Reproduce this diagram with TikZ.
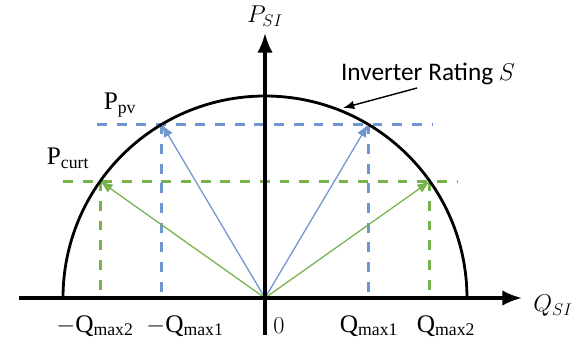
\documentclass[tikz,border=0pt]{standalone}
\usepackage{fontspec}
\setmainfont{Carlito}
\setmathrm{Liberation Serif}
\usepackage{amsmath}
\usetikzlibrary{arrows.meta}
\definecolor{pvblue}{RGB}{112,150,208}
\definecolor{curtgreen}{RGB}{118,178,78}

\begin{document}
\begin{tikzpicture}[>={Latex[length=14pt,width=11pt]},
  axis/.style={line width=2.2pt,->},
  rating/.style={line width=2pt},
  guide/.style={line width=2pt,dash pattern=on 7pt off 7pt},
  vec/.style={line width=0.9pt,-{Latex[length=9pt,width=7pt]}},
  lbl/.style={font=\fontsize{18}{21}\selectfont}]
  \useasboundingbox (-6.625,-1.025) rectangle (7.975,7.45);
  \def\R{5.05}
  \coordinate (O) at (0,0);
  \coordinate (xl) at (-6.15,0);
  \coordinate (xr) at (6.425,0);
  \coordinate (yb) at (0,-0.925);
  \coordinate (yt) at (0,6.625);
  \coordinate (sR) at (\R,0);
  \coordinate (pv1) at (59.3:\R);
  \coordinate (pv2) at (120.7:\R);
  \coordinate (cu1) at (35.3:\R);
  \coordinate (cu2) at (144.7:\R);
  \path (pv1) ++(-6.778,0) coordinate (pvL);
  \path (pv1) ++(1.597,0) coordinate (pvR);
  \path (cu1) ++(-9.171,0) coordinate (cuL);
  \path (cu1) ++(0.704,0) coordinate (cuR);

  \draw[guide,pvblue] (pvL) -- (pvR);
  \draw[guide,pvblue] (pv1) -- (pv1 |- O);
  \draw[guide,pvblue] (pv2) -- (pv2 |- O);
  \draw[guide,curtgreen] (cuL) -- (cuR);
  \draw[guide,curtgreen] (cu1) -- (cu1 |- O);
  \draw[guide,curtgreen] (cu2) -- (cu2 |- O);

  \draw[rating] (sR) arc[start angle=0,end angle=180,radius=\R];

  \draw[vec,pvblue] (O) -- (pv1);
  \draw[vec,pvblue] (O) -- (pv2);
  \draw[vec,curtgreen] (O) -- (cu1);
  \draw[vec,curtgreen] (O) -- (cu2);

  \draw[axis] (xl) -- (xr);
  \draw[axis] (yb) -- (yt);

  \node[lbl] (PSI) at (0,7.05) {$P_{SI}$};
  \node[lbl] (QSI) at (7.2,-0.2) {$Q_{SI}$};
  \node[lbl] (Ppv) at (-3.625,4.83) {$\mathrm{P}_{\mathrm{pv}}$};
  \node[lbl] (Pcurt) at (-4.925,3.5) {$\mathrm{P}_{\mathrm{curt}}$};
  \node[lbl] (rate) at (4.075,5.6) {Inverter Rating $S$};
  \coordinate (ptr) at (3.8,5.25);
  \coordinate (tip) at (1.95,4.75);
  \draw[line width=1pt,-{Latex[length=8pt,width=6pt]}] (ptr) -- (tip);

  \node[lbl] (qm2) at (-4.25,-0.7) {$-\mathrm{Q}_{\mathrm{max2}}$};
  \node[lbl] (qm1) at (-2.0,-0.7) {$-\mathrm{Q}_{\mathrm{max1}}$};
  \node[lbl] (zero) at (0.35,-0.7) {$0$};
  \node[lbl] (qp1) at (2.6,-0.7) {$\mathrm{Q}_{\mathrm{max1}}$};
  \node[lbl] (qp2) at (4.525,-0.7) {$\mathrm{Q}_{\mathrm{max2}}$};
\end{tikzpicture}
\end{document}
